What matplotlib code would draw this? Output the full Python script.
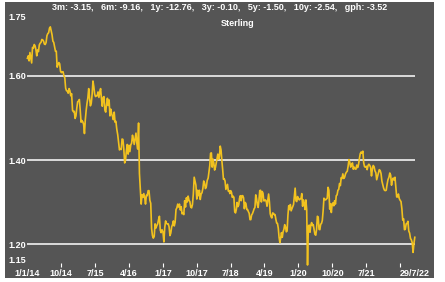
import numpy as np
import pandas as pd
import matplotlib
matplotlib.use("Agg")
import matplotlib.pyplot as plt
from matplotlib.patches import Rectangle

# GBP/USD, roughly weekly readings per year
gbp_2014 = [1.642, 1.648, 1.636, 1.656, 1.644, 1.631, 1.668, 1.666, 1.675,
            1.672, 1.663, 1.648, 1.662, 1.658, 1.674, 1.678, 1.680, 1.687,
            1.686, 1.683, 1.676, 1.675, 1.680, 1.696, 1.701, 1.703, 1.714,
            1.717, 1.707, 1.698, 1.683, 1.680, 1.670, 1.659, 1.659, 1.621,
            1.627, 1.632, 1.629, 1.611, 1.608, 1.610, 1.610, 1.600, 1.596,
            1.571, 1.565, 1.564, 1.559, 1.570, 1.565, 1.553, 1.558]
gbp_2015 = [1.518, 1.515, 1.516, 1.499, 1.505, 1.524, 1.539, 1.540, 1.544,
            1.519, 1.490, 1.494, 1.491, 1.485, 1.463, 1.496, 1.518, 1.535,
            1.548, 1.570, 1.547, 1.529, 1.535, 1.556, 1.588, 1.575, 1.557,
            1.551, 1.553, 1.553, 1.562, 1.549, 1.562, 1.570, 1.546, 1.528,
            1.549, 1.551, 1.519, 1.514, 1.532, 1.547, 1.530, 1.543, 1.505,
            1.521, 1.510, 1.504, 1.496, 1.514, 1.490, 1.492, 1.474]
gbp_2016 = [1.460, 1.442, 1.424, 1.427, 1.425, 1.450, 1.449, 1.426, 1.393,
            1.400, 1.422, 1.437, 1.414, 1.435, 1.420, 1.436, 1.440, 1.459,
            1.450, 1.437, 1.450, 1.464, 1.440, 1.426, 1.488, 1.368, 1.330,
            1.295, 1.317, 1.311, 1.320, 1.311, 1.295, 1.316, 1.315, 1.327,
            1.327, 1.304, 1.297, 1.237, 1.220, 1.214, 1.218, 1.248, 1.238,
            1.244, 1.248, 1.258, 1.266, 1.233, 1.227, 1.234]
gbp_2017 = [1.228, 1.205, 1.239, 1.255, 1.249, 1.248, 1.248, 1.241, 1.220,
            1.226, 1.241, 1.246, 1.255, 1.243, 1.252, 1.282, 1.286, 1.295,
            1.288, 1.295, 1.281, 1.289, 1.272, 1.274, 1.270, 1.303, 1.288,
            1.310, 1.300, 1.314, 1.304, 1.301, 1.288, 1.286, 1.294, 1.319,
            1.359, 1.349, 1.340, 1.307, 1.328, 1.315, 1.328, 1.306, 1.319,
            1.322, 1.332, 1.350, 1.345, 1.332, 1.336, 1.351]
gbp_2018 = [1.357, 1.372, 1.387, 1.416, 1.417, 1.383, 1.402, 1.393, 1.376,
            1.382, 1.392, 1.403, 1.414, 1.402, 1.409, 1.433, 1.424, 1.399,
            1.378, 1.354, 1.355, 1.350, 1.330, 1.336, 1.342, 1.326, 1.327,
            1.320, 1.327, 1.323, 1.311, 1.314, 1.311, 1.277, 1.274, 1.282,
            1.299, 1.289, 1.293, 1.309, 1.315, 1.303, 1.315, 1.315, 1.310,
            1.284, 1.299, 1.296, 1.282, 1.282, 1.277, 1.273, 1.258, 1.258,
            1.269, 1.272]
gbp_2019 = [1.278, 1.284, 1.287, 1.317, 1.308, 1.293, 1.287, 1.304, 1.327,
            1.328, 1.300, 1.325, 1.321, 1.303, 1.303, 1.305, 1.302, 1.290,
            1.304, 1.319, 1.300, 1.272, 1.265, 1.262, 1.274, 1.273, 1.270,
            1.270, 1.259, 1.250, 1.249, 1.238, 1.216, 1.203, 1.214, 1.227,
            1.216, 1.229, 1.235, 1.246, 1.241, 1.229, 1.231, 1.268, 1.291,
            1.282, 1.294, 1.279, 1.284, 1.289, 1.294, 1.314, 1.333, 1.303,
            1.301, 1.313]
gbp_2020 = [1.308, 1.305, 1.307, 1.308, 1.320, 1.290, 1.305, 1.296, 1.282,
            1.305, 1.281, 1.150, 1.242, 1.245, 1.228, 1.245, 1.251, 1.244,
            1.246, 1.234, 1.223, 1.221, 1.234, 1.266, 1.264, 1.235, 1.234,
            1.247, 1.249, 1.256, 1.279, 1.309, 1.306, 1.305, 1.307, 1.309,
            1.335, 1.328, 1.283, 1.296, 1.275, 1.295, 1.298, 1.291, 1.303,
            1.295, 1.315, 1.317, 1.328, 1.330, 1.344, 1.339, 1.358, 1.356,
            1.367]
gbp_2021 = [1.356, 1.359, 1.367, 1.371, 1.373, 1.385, 1.401, 1.394, 1.383,
            1.389, 1.393, 1.378, 1.383, 1.379, 1.378, 1.388, 1.382, 1.389,
            1.403, 1.415, 1.419, 1.416, 1.421, 1.393, 1.384, 1.383, 1.385,
            1.377, 1.387, 1.390, 1.387, 1.383, 1.362, 1.378, 1.387, 1.384,
            1.374, 1.370, 1.353, 1.361, 1.368, 1.377, 1.375, 1.368, 1.350,
            1.342, 1.333, 1.328, 1.327, 1.328, 1.342, 1.353]
gbp_2022 = [1.359, 1.369, 1.364, 1.340, 1.353, 1.357, 1.352, 1.359, 1.334,
            1.312, 1.312, 1.319, 1.308, 1.304, 1.301, 1.284, 1.257, 1.260,
            1.234, 1.235, 1.248, 1.249, 1.254, 1.231, 1.226, 1.213, 1.210,
            1.203, 1.180, 1.201, 1.216]

years = [2014, 2015, 2016, 2017, 2018, 2019, 2020, 2021, 2022]
series = [gbp_2014, gbp_2015, gbp_2016, gbp_2017, gbp_2018, gbp_2019,
          gbp_2020, gbp_2021, gbp_2022]
last_day = "2022-07-29"

stats_line = ("3m: -3.15,   6m: -9.16,   1y: -12.76,   3y: -0.10,   "
              "5y: -1.50,   10y: -2.54,   gph: -3.52")
chart_title = "Sterling"

tick_dates = ["2014-10-01", "2015-07-01", "2016-04-01", "2017-01-01",
              "2017-10-01", "2018-07-01", "2019-04-01", "2020-01-01",
              "2020-10-01", "2021-07-01", "2022-04-01"]
tick_labels = ["10/14", "7/15", "4/16", "1/17", "10/17", "7/18", "4/19",
               "1/20", "10/20", "7/21", ""]
y_ticks = [1.15, 1.20, 1.40, 1.60, 1.75]
grid_levels = [1.20, 1.40, 1.60]

# build dates: spread each year's readings across that year
dates, values = [], []
for yr, vals in zip(years, series):
    end = last_day if yr == 2022 else f"{yr}-12-31"
    d = pd.date_range(f"{yr}-01-01", end, periods=len(vals) + (0 if yr == 2022 else 1))
    dates.extend(d[:len(vals)])
    values.extend(vals)
dates = pd.DatetimeIndex(dates)
values = np.array(values)

bg = "#555555"
fg = "white"
gold = "#f2c21f"
plt.rcParams["font.family"] = ["Liberation Sans", "DejaVu Sans"]

fig = plt.figure(figsize=(4.45, 2.82), dpi=100)
fig.patch.set_facecolor("white")
fig.patches.append(Rectangle((5 / 445, 4 / 282), 429 / 445, 276 / 282,
                             transform=fig.transFigure, facecolor=bg,
                             edgecolor="none", zorder=-1))

ax = fig.add_axes([27.4 / 445, 17 / 282, 387.4 / 445, 252 / 282])
ax.set_zorder(2)
ax.set_facecolor("none")
for s in ax.spines.values():
    s.set_visible(False)

for lvl in grid_levels:
    ax.axhline(lvl, color=fg, lw=1.1, zorder=1)

ax.plot(dates, values, color=gold, lw=1.2, zorder=2, clip_on=False)

ax.set_xlim(pd.Timestamp("2014-01-01"), pd.Timestamp(last_day))
ax.set_ylim(1.15, 1.75)

xt = [pd.Timestamp("2014-01-01")] + [pd.Timestamp(t) for t in tick_dates] + [pd.Timestamp(last_day)]
ax.set_xticks(xt)
ax.set_xticklabels(["1/1/14"] + tick_labels + ["29/7/22"], fontsize=6.5,
                   fontweight="bold", color=fg)
ax.tick_params(axis="x", direction="inout", length=3, width=0.8, color=fg, pad=1.5)
xticks = ax.xaxis.get_major_ticks()
xticks[0].tick1line.set_visible(False)
xticks[-1].tick1line.set_visible(False)

ax.set_yticks(y_ticks)
ax.set_yticklabels([f"{v:.2f}" for v in y_ticks], fontsize=6.5,
                   fontweight="bold", color=fg)
ax.tick_params(axis="y", length=0, pad=1)
ylabels = ax.get_yticklabels()
ylabels[0].set_va("bottom")
ylabels[-1].set_va("top")

fig.text(220 / 445, 1 - 7 / 282, stats_line, ha="center", va="center",
         fontsize=6.5, fontweight="bold", color=fg, zorder=3)
fig.text(238 / 445, 1 - 23 / 282, chart_title, ha="center", va="center",
         fontsize=6.5, fontweight="bold", color=fg, zorder=3)

fig.savefig("out.png", dpi=100, facecolor="white")
